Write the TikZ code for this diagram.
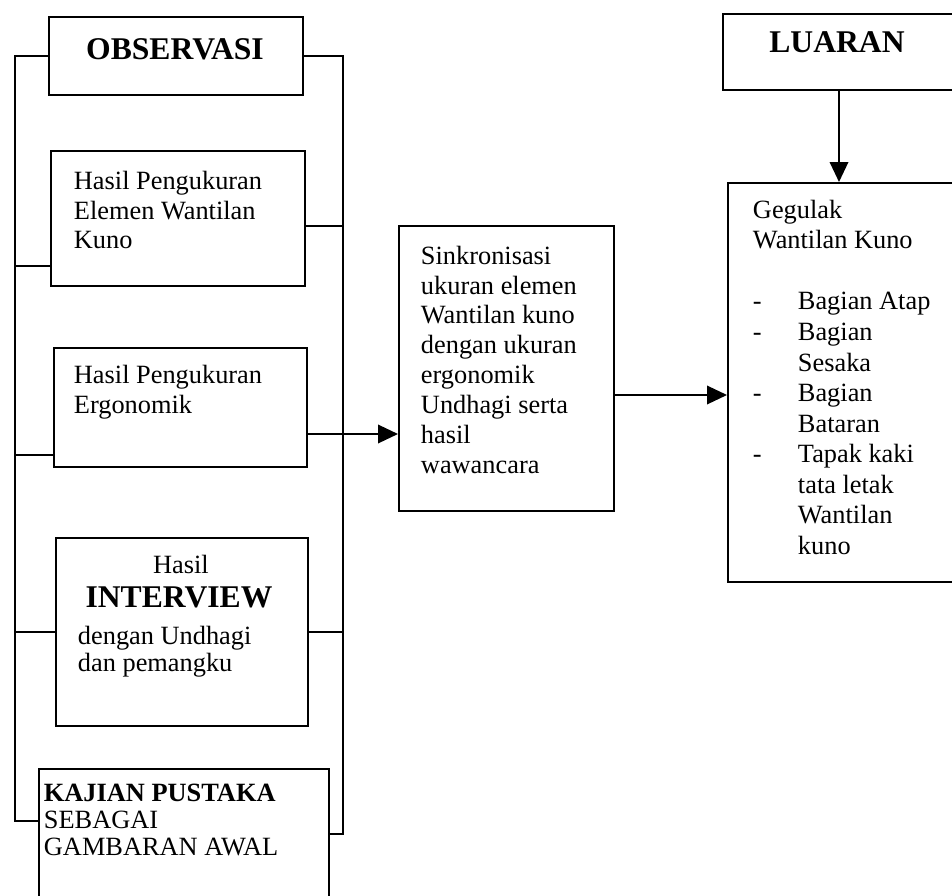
\documentclass[tikz,border=0pt]{standalone}
\usepackage{fontspec}
\setmainfont{Liberation Serif}
\usetikzlibrary{arrows.meta,calc}
\tikzset{>={Triangle[length=0.4cm,width=0.37cm]}}
\tikzstyle{blok}=[rectangle,draw=black,line width=1.1pt,anchor=north west,inner sep=0pt]
\tikzstyle{isi}=[anchor=north west,align=left,inner sep=0pt,font=\fontsize{15}{17}\selectfont]
\tikzstyle{judul}=[anchor=base,inner sep=0pt,font=\fontsize{18}{20}\selectfont\bfseries]

\begin{document}
\begin{tikzpicture}[x=0.02cm,y=-0.02cm,line width=1.1pt]
\def \px {0.02};
\def \kiri {15};
\def \kanan {343};

\useasboundingbox (0,0) rectangle (952,895);
\clip (0,0) rectangle (952,895);

% kolom kiri
\node[blok,minimum width=254*\px cm,minimum height=78*\px cm] (obs) at (48,16) {};
\node[blok,minimum width=254*\px cm,minimum height=135*\px cm] (elem) at (50,150) {};
\node[blok,minimum width=253*\px cm,minimum height=119*\px cm] (ergo) at (53,347) {};
\node[blok,minimum width=252*\px cm,minimum height=188*\px cm] (intv) at (55,537) {};
\node[blok,minimum width=290*\px cm,minimum height=150*\px cm] (kaj) at (38,768) {};

\node[judul] (obs-t) at (175,60) {OBSERVASI};
\node[isi] (elem-t) at (73,170) {Hasil Pengukuran\\Elemen Wantilan\\Kuno};
\node[isi] (ergo-t) at (73,364) {Hasil Pengukuran\\Ergonomik};
\node[isi,anchor=base] (intv-a) at (181,573) {Hasil};
\node[judul] (intv-b) at (179,607) {INTERVIEW};
\node[isi,font=\fontsize{15}{15.5}\selectfont] (intv-c) at (77,625) {dengan Undhagi\\dan pemangku};
\node[isi,font=\fontsize{15}{15.5}\selectfont] (kaj-t) at (43,783) {\textbf{KAJIAN PUSTAKA}\\SEBAGAI\\GAMBARAN AWAL};

% kurung kiri dan kanan
\draw (obs.west) -| (\kiri,821) -- (kaj.west |- 0,821);
\draw (obs.east) -| (\kanan,834) -- (kaj.east |- 0,834);
\draw (elem.west |- 0,266) -- (\kiri,266);
\draw (ergo.west |- 0,455) -- (\kiri,455);
\draw (intv.west) -- (intv.west -| \kiri,0);
\draw (elem.east |- 0,226) -- (\kanan,226);
\draw (intv.east) -- (intv.east -| \kanan,0);

% tengah
\node[blok,minimum width=215*\px cm,minimum height=285*\px cm] (sink) at (398,225) {};
\node[isi] (sink-t) at (420,245) {Sinkronisasi\\ukuran elemen\\Wantilan kuno\\dengan ukuran\\ergonomik\\Undhagi serta\\hasil\\wawancara};

% kolom kanan
\node[blok,minimum width=250*\px cm,minimum height=76*\px cm] (luar) at (722,13) {};
\node[blok,minimum width=250*\px cm,minimum height=399*\px cm] (gegu) at (727,182) {};
\node[judul] (luar-t) at (837,53) {LUARAN};
\node[isi,font=\fontsize{15}{17.4}\selectfont] (gegu-t) at (752,199) {Gegulak\\Wantilan Kuno\\[17.4pt]
\makebox[0.9cm][l]{-}Bagian Atap\\
\makebox[0.9cm][l]{-}Bagian\\
\hspace*{0.9cm}Sesaka\\
\makebox[0.9cm][l]{-}Bagian\\
\hspace*{0.9cm}Bataran\\
\makebox[0.9cm][l]{-}Tapak kaki\\
\hspace*{0.9cm}tata letak\\
\hspace*{0.9cm}Wantilan\\
\hspace*{0.9cm}kuno};

% panah
\draw[->] (ergo.east |- 0,434) -- (sink.west |- 0,434);
\draw[->] (sink.east |- 0,395) -- (gegu.west |- 0,395);
\draw[->] (luar.south -| 839,0) -- (gegu.north -| 839,0);

\end{tikzpicture}
\end{document}
